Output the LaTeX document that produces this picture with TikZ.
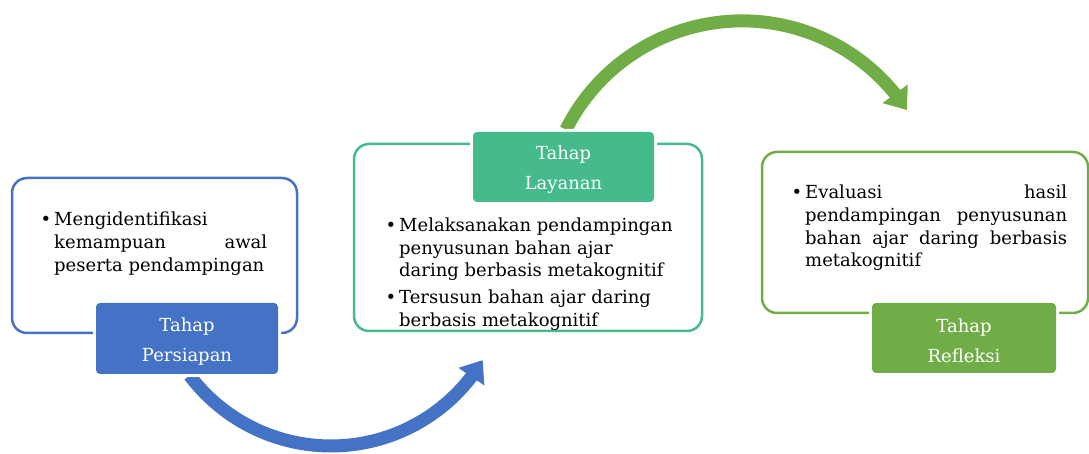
\documentclass[tikz,border=0pt]{standalone}
\usepackage{fontspec}
\setmainfont{DejaVu Serif}
\usetikzlibrary{arrows.meta,bending}
\definecolor{cblue}{RGB}{68,114,196}
\definecolor{cgreen}{RGB}{112,173,71}
\definecolor{cteal}{RGB}{69,187,140}
\newcommand{\bul}{\leavevmode\llap{\textbullet\hspace{3pt}}}
\tikzset{
  outline/.style={draw=#1, line width=2.5pt, rounded corners=15pt, fill=none, inner sep=0pt},
  label/.style={fill=#1, rounded corners=4pt, preaction={draw=white,line width=6pt}, inner sep=0pt},
  labeltext/.style={text=white, align=center, inner sep=0pt, font=\fontsize{18}{30}\selectfont},
  body/.style={anchor=base west, inner sep=0pt, font=\fontsize{18}{22.6}\selectfont},
  bigarrow/.style={draw=#1, line width=13pt, -{Triangle[length=20pt,width=30pt]}}
}
\begin{document}
\begin{tikzpicture}[x=1pt,y=1pt]
\useasboundingbox (0,0) rectangle (1089,454);
% curved arrows
\coordinate (a1s) at (189.6,78.5);
\coordinate (a2s) at (565.9,324.3);
\draw[bigarrow=cblue] (a1s) arc[start angle=217, end angle=329, radius=177];
\draw[bigarrow=cgreen] (a2s) arc[start angle=153.4, end angle=33.2, radius=197];
% outline boxes
\node[outline=cblue, minimum width=285pt, minimum height=155pt] (b1) at (154.5,198.5) {};
\node[outline=cteal, minimum width=348pt, minimum height=187pt] (b2) at (528,216.5) {};
\node[outline=cgreen, minimum width=326pt, minimum height=161pt] (b3) at (925,221.5) {};
% labels
\node[label=cblue, minimum width=182pt, minimum height=71pt] (l1) at (187,115.5) {};
\node[label=cteal, minimum width=181pt, minimum height=70pt] (l2) at (563.5,287) {};
\node[label=cgreen, minimum width=184pt, minimum height=70pt] (l3) at (964,116) {};
\node[labeltext] (l1t) at ([yshift=-3pt]l1.center) {Tahap\\Persiapan};
\node[labeltext] (l2t) at ([yshift=-3pt]l2.center) {Tahap\\Layanan};
\node[labeltext] (l3t) at ([yshift=-3pt]l3.center) {Tahap\\Refleksi};
% body texts
\node[body] (t1) at (54,228) {\parbox[t]{213pt}{\fontsize{18}{22.6}\selectfont
  \bul Mengidentifikasi\\ kemampuan awal\linebreak peserta pendampingan}};
\node[body] (t2) at (399,222.3) {\parbox[t]{285pt}{\raggedright\fontsize{18}{22.6}\selectfont
  \bul Melaksanakan pendampingan\\ penyusunan bahan ajar\\ daring berbasis metakognitif\par\vspace{4pt}
  \bul Tersusun bahan ajar daring\\ berbasis metakognitif}};
\node[body] (t3) at (805,255) {\parbox[t]{262pt}{\fontsize{18}{22.6}\selectfont
  \bul Evaluasi hasil\linebreak pendampingan penyusunan\linebreak bahan ajar daring berbasis\linebreak metakognitif}};
\end{tikzpicture}
\end{document}
